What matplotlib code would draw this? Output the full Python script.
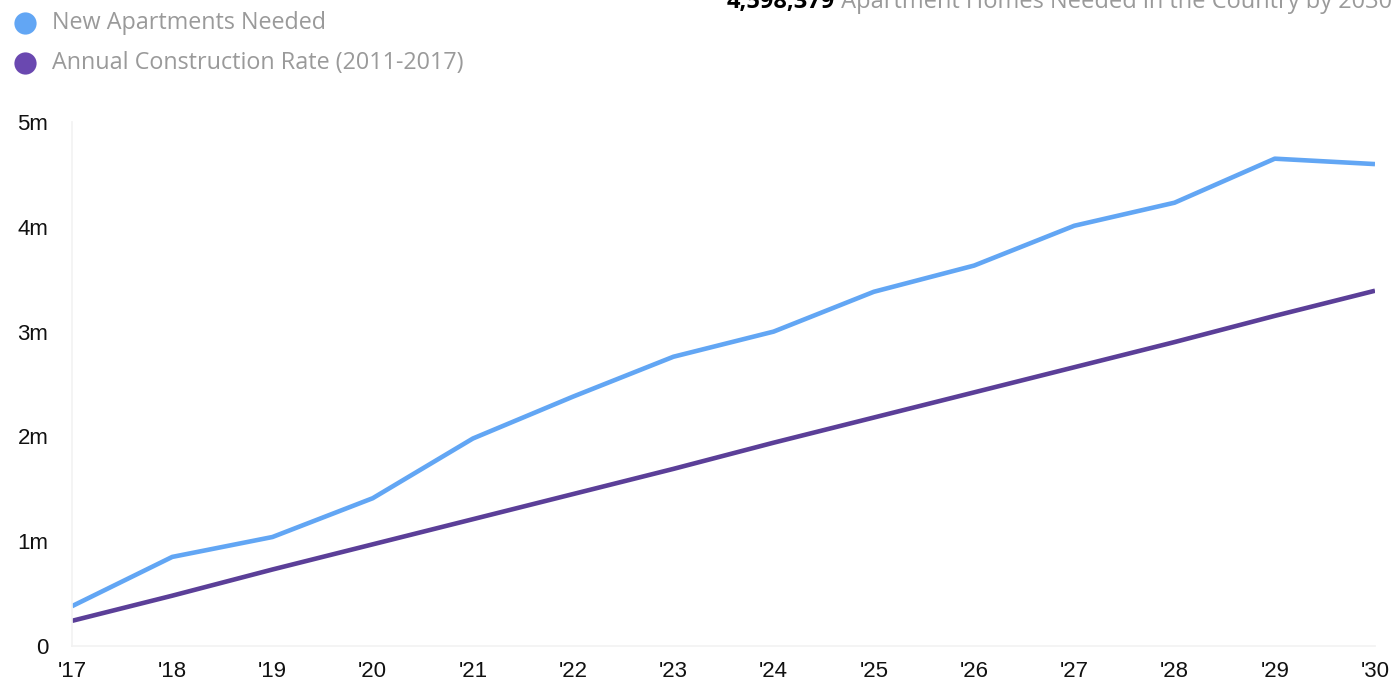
import matplotlib
matplotlib.use("Agg")
import matplotlib.pyplot as plt
from matplotlib.lines import Line2D

years = ["'17", "'18", "'19", "'20", "'21", "'22", "'23", "'24", "'25", "'26", "'27", "'28", "'29", "'30"]
needed = [0.38, 0.85, 1.04, 1.41, 1.98, 2.38, 2.76, 3.00, 3.38, 3.63, 4.01, 4.23, 4.65, 4.598379]
construction = [0.24, 0.48, 0.73, 0.97, 1.21, 1.45, 1.69, 1.94, 2.18, 2.42, 2.66, 2.90, 3.15, 3.39]
y_ticks = [0, 1, 2, 3, 4, 5]
y_labels = ["0", "1m", "2m", "3m", "4m", "5m"]

blue = "#62a6f4"
purple = "#5b3f98"
grey_text = "#9a9a9a"

fig = plt.figure(figsize=(13.95, 6.84), dpi=100)
ax = fig.add_axes([72 / 1395, 1 - 646 / 684, (1375 - 72) / 1395, (646 - 122) / 684])

x = list(range(len(years)))
ax.plot(x, needed, color=blue, lw=3.3, solid_joinstyle="round", solid_capstyle="butt")
ax.plot(x, construction, color=purple, lw=3.3, solid_capstyle="butt")

ax.set_xlim(0, len(years) - 1)
ax.set_ylim(0, 5)
ax.set_xticks(x)
ax.set_xticklabels(years)
ax.set_yticks(y_ticks)
ax.set_yticklabels(y_labels)
ax.tick_params(length=0, labelsize=16, colors="#111111")
ax.tick_params(axis="y", pad=17)
ax.tick_params(axis="x", pad=11)
for lab in ax.get_xticklabels() + ax.get_yticklabels():
    lab.set_fontfamily("Liberation Sans")
for side in ["top", "right"]:
    ax.spines[side].set_visible(False)
for side in ["left", "bottom"]:
    ax.spines[side].set_color("#f2f2f2")
    ax.spines[side].set_linewidth(1.2)

# legend
legend_items = [("New Apartments Needed", blue), ("Annual Construction Rate (2011-2017)", "#6a48b0")]
for i, (label, col) in enumerate(legend_items):
    yy = 1 - (23 + 40 * i) / 684
    fig.add_artist(Line2D([25 / 1395], [yy], marker="o", markersize=16, color=col,
                          markeredgewidth=0, transform=fig.transFigure))
    fig.text(52 / 1395, yy, label, color=grey_text, fontsize=16.8, family="Open Sans",
             va="center", ha="left")

# headline (top-right)
t2 = fig.text(1392 / 1395, 1 - 8 / 684, " Apartment Homes Needed in the Country by 2030",
              color=grey_text, fontsize=17, family="Open Sans", ha="right", va="baseline")
fig.canvas.draw()
bb = t2.get_window_extent()
fig.text(bb.x0 / 1395, 1 - 8 / 684, "4,598,379", color="#000000", fontsize=17,
         family="Open Sans", fontweight="bold", ha="right", va="baseline")

fig.savefig("out.png", dpi=100, facecolor="white")
